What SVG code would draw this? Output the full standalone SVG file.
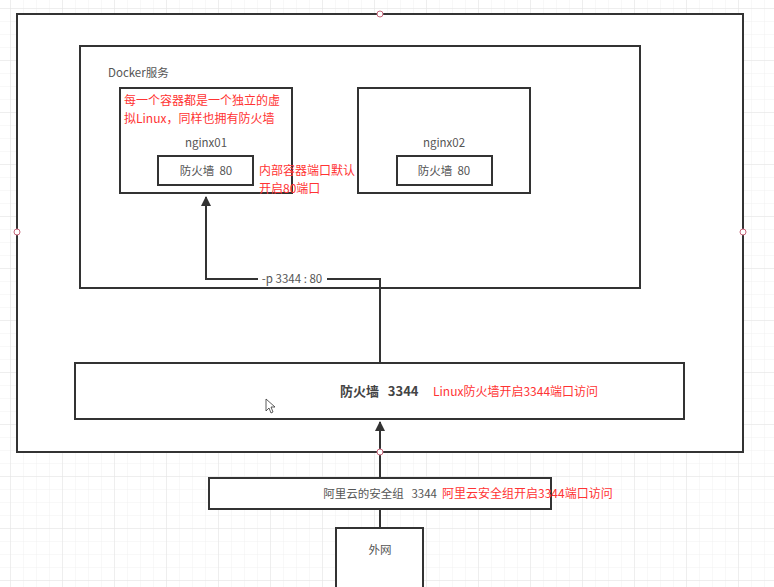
<svg xmlns="http://www.w3.org/2000/svg" width="774" height="587" viewBox="0 0 774 587">
<defs>
<pattern id="minor" width="13" height="13" patternUnits="userSpaceOnUse" x="11" y="9">
<path d="M13 0 V13 M0 13 H13" fill="none" stroke="#f0f0f0" stroke-width="1"/>
</pattern>
<pattern id="major" width="52" height="52" patternUnits="userSpaceOnUse" x="11" y="9">
<path d="M52 0 V52 M0 52 H52" fill="none" stroke="#e4e4e4" stroke-width="1"/>
</pattern>
<marker id="arr" viewBox="0 0 10 10" refX="9" refY="5" markerWidth="10" markerHeight="10" markerUnits="userSpaceOnUse" orient="auto">
<path d="M0 0 L10 5 L0 10 Z" fill="#333"/>
</marker>
<style>
text{white-space:pre}
.box{fill:#fff;stroke:#333;stroke-width:2}
.t{font-family:"Noto Sans CJK SC","Liberation Sans",sans-serif;font-size:11.5px;fill:#555}
.r{font-family:"Noto Sans CJK SC","Liberation Sans",sans-serif;font-size:12px;fill:#ff3333}
.b{font-family:"Noto Sans CJK SC","Liberation Sans",sans-serif;font-size:13px;fill:#444;font-weight:bold}
.line{fill:none;stroke:#333;stroke-width:2}
.h{fill:#fff;stroke:#c7667a;stroke-width:1}
</style>
</defs>
<rect width="774" height="587" fill="#fff"/>
<rect width="774" height="587" fill="url(#minor)"/>
<rect width="774" height="587" fill="url(#major)"/>

<g id="host">
<rect class="box" x="17" y="14" width="726" height="438"/>
</g>
<g id="docker">
<rect class="box" x="80" y="46" width="560" height="242"/>
<text class="t" x="108" y="77">Docker服务</text>
</g>
<g id="nginx01">
<rect class="box" x="120" y="88" width="172" height="105"/>
<text class="r" x="124" y="105">每一个容器都是一个独立的虚</text>
<text class="r" x="124" y="123">拟Linux，同样也拥有防火墙</text>
<text class="t" x="206" y="147" text-anchor="middle">nginx01</text>
</g>
<g id="fw01">
<rect class="box" x="158" y="156" width="95" height="29"/>
<text class="t" x="206" y="175" text-anchor="middle">防火墙  80</text>
</g>
<g id="note01">
<text class="r" x="259" y="175">内部容器端口默认</text>
<text class="r" x="259" y="193">开启80端口</text>
</g>
<g id="nginx02">
<rect class="box" x="358" y="88" width="172" height="105"/>
<text class="t" x="444" y="147" text-anchor="middle">nginx02</text>
</g>
<g id="fw02">
<rect class="box" x="397" y="156" width="95" height="29"/>
<text class="t" x="444" y="175" text-anchor="middle">防火墙  80</text>
</g>
<g id="linuxfw">
<rect class="box" x="75" y="363" width="609" height="56"/>
<text class="b" x="340" y="396">防火墙   3344</text>
<text class="r" x="433" y="396">Linux防火墙开启3344端口访问</text>
</g>
<g id="aliyun">
<rect class="box" x="209" y="478" width="342" height="31"/>
<text class="t" x="437" y="498" text-anchor="end">阿里云的安全组   3344</text>
<text class="r" x="442" y="498">阿里云安全组开启3344端口访问</text>
</g>
<g id="internet">
<rect class="box" x="336" y="528" width="87" height="70"/>
<text class="t" x="380" y="554" text-anchor="middle">外网</text>
</g>

<g id="connectors">
<path class="line" d="M380 362 V279 H206 V197" marker-end="url(#arr)"/>
<rect x="258" y="272" width="69" height="14" fill="#fff"/>
<text class="t" x="292" y="283" text-anchor="middle">-p 3344 : 80</text>
<path class="line" d="M380 478 V422" marker-end="url(#arr)"/>
<path class="line" d="M380 528 V510"/>
</g>

<g id="handles">
<circle class="h" cx="380" cy="14" r="3"/>
<circle class="h" cx="17" cy="232" r="3"/>
<circle class="h" cx="743" cy="232" r="3"/>
<circle class="h" cx="380" cy="452" r="3"/>
</g>
<path d="M266 399 V411 L269 408 L271 413 L273 412 L271 407 L275 407 Z" fill="#fff" stroke="#333" stroke-width="0.8"/>
</svg>
